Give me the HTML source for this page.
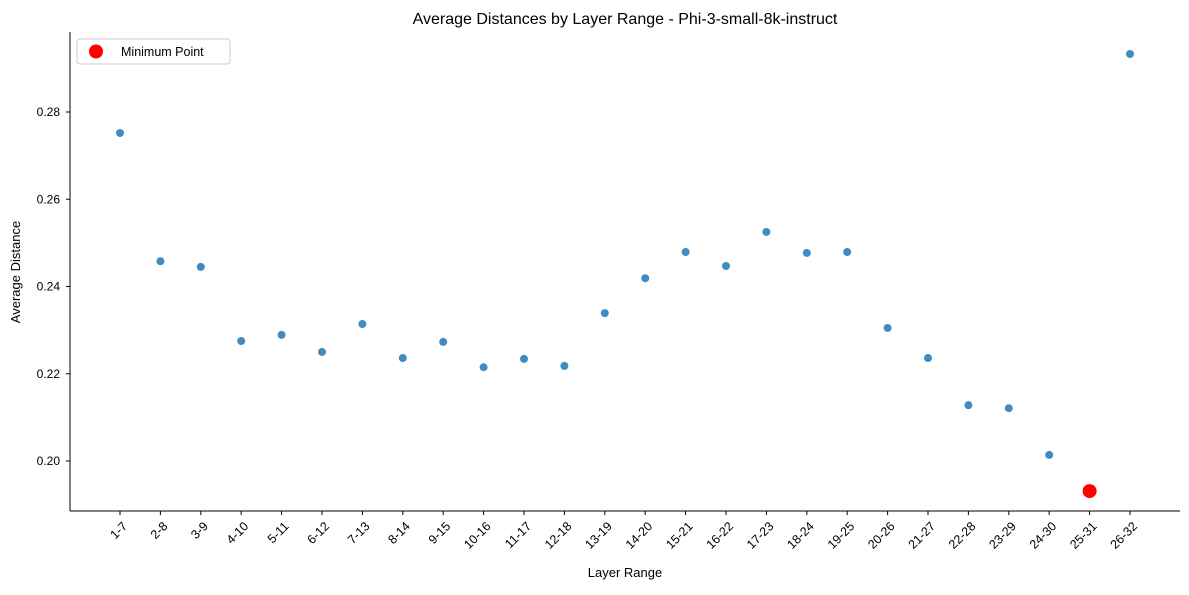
<!DOCTYPE html>
<html><head><meta charset="utf-8"><style>body{margin:0;background:#fff}svg text{font-family:"Liberation Sans","DejaVu Sans",sans-serif}</style></head>
<body>
<svg id="chart" width="1189" height="590" xmlns="http://www.w3.org/2000/svg">
<text x="625" y="24" text-anchor="middle" font-size="16">Average Distances by Layer Range - Phi-3-small-8k-instruct</text>
<text x="625" y="577" text-anchor="middle" font-size="13">Layer Range</text>
<text transform="translate(20,272) rotate(-90)" text-anchor="middle" font-size="13">Average Distance</text>
<g id="axes"></g><g id="marks"></g>
<g>
<rect x="77" y="39" width="153" height="25" rx="3" fill="#fff" stroke="#ccc"/>
<circle cx="96" cy="51.5" r="7" fill="red"/>
<text x="121" y="56" font-size="12.5">Minimum Point</text>
</g>
</svg>
<script>
const categories=["1-7","2-8","3-9","4-10","5-11","6-12","7-13","8-14","9-15","10-16","11-17","12-18","13-19","14-20","15-21","16-22","17-23","18-24","19-25","20-26","21-27","22-28","23-29","24-30","25-31","26-32"];
const values=[0.2752,0.2458,0.2445,0.2275,0.2289,0.2250,0.2314,0.2236,0.2273,0.2215,0.2234,0.2218,0.2339,0.2419,0.2479,0.2447,0.2525,0.2477,0.2479,0.2305,0.2236,0.2128,0.2121,0.2014,0.1931,0.2933];
const yTicks=[0.20,0.22,0.24,0.26,0.28];
const NS="http://www.w3.org/2000/svg";
const x=i=>120+i*(1130-120)/25;
const y=v=>461-(v-0.20)*4362.5;
const axes=document.getElementById('axes'),marks=document.getElementById('marks');
function mk(t,a,p){const e=document.createElementNS(NS,t);for(const k in a)e.setAttribute(k,a[k]);p.appendChild(e);return e;}
let l=mk('line',{x1:70,y1:32,x2:70,y2:511,stroke:'#000'},axes);


l=mk('line',{x1:70,y1:511,x2:1180,y2:511,stroke:'#000'},axes);


yTicks.forEach(v=>{mk('line',{x1:66,x2:70,y1:y(v),y2:y(v),stroke:'#000'},axes);
const t=mk('text',{x:60,y:y(v)+4,'text-anchor':'end','font-size':12},axes);t.textContent=v.toFixed(2);

});
categories.forEach((c,i)=>{mk('line',{x1:x(i),x2:x(i),y1:511,y2:515,stroke:'#000'},axes);
const t=mk('text',{transform:`translate(${x(i)+8},${527}) rotate(-45)`,'text-anchor':'end','font-size':12.5},axes);t.textContent=c;

});
let mi=values.indexOf(Math.min(...values));
values.forEach((v,i)=>{if(i===mi)return;const p=mk('circle',{cx:x(i),cy:y(v),r:4,fill:'#1f77b4','fill-opacity':0.85},marks);

});
const m=mk('circle',{cx:x(mi),cy:y(values[mi]),r:7,fill:'red'},marks);


</script>
</body></html>
